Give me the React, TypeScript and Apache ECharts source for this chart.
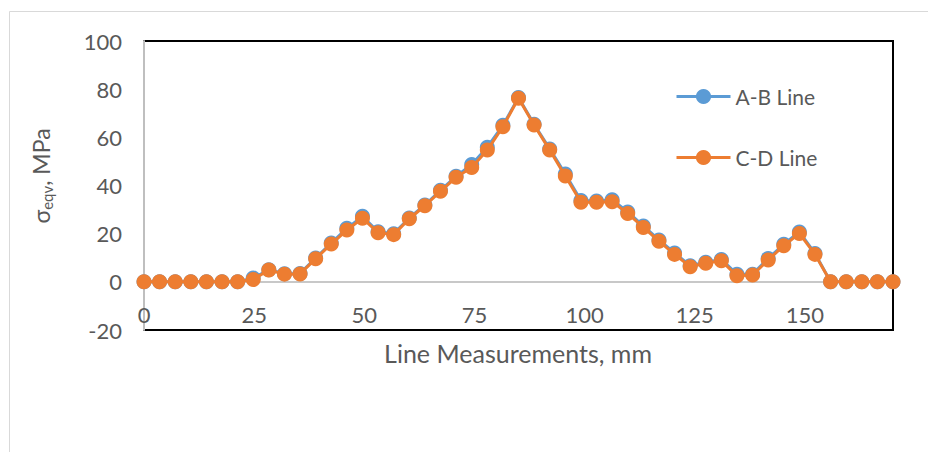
import React, { useEffect, useRef } from "react";
import * as echarts from "echarts";

const positionsMm: number[] = [
  0, 3.54, 7.08, 10.63, 14.17, 17.71, 21.25, 24.79, 28.33, 31.88,
  35.42, 38.96, 42.5, 46.04, 49.58, 53.13, 56.67, 60.21, 63.75, 67.29,
  70.83, 74.38, 77.92, 81.46, 85.0, 88.54, 92.08, 95.63, 99.17, 102.71,
  106.25, 109.79, 113.33, 116.88, 120.42, 123.96, 127.5, 131.04, 134.58, 138.13,
  141.67, 145.21, 148.75, 152.29, 155.83, 159.38, 162.92, 166.46, 170.0,
];

const abLine: number[] = [
  0, 0, 0, 0, 0, 0, 0, 1.6, 5.0, 3.4,
  3.5, 9.9, 16.1, 22.2, 27.2, 20.8, 20.0, 26.5, 31.9, 38.0,
  43.8, 48.7, 55.9, 65.0, 76.5, 65.4, 55.2, 44.8, 33.8, 33.6,
  34.1, 29.0, 23.2, 17.4, 12.0, 6.7, 8.1, 9.3, 3.2, 3.2,
  9.7, 15.6, 20.7, 11.8, 0, 0, 0, 0, 0,
];

const cdLine: number[] = [
  0, 0, 0, 0, 0, 0, 0, 1.0, 4.9, 3.2,
  3.3, 9.6, 15.7, 21.5, 26.4, 20.4, 19.6, 26.2, 31.6, 37.6,
  43.4, 47.5, 54.7, 64.4, 76.2, 65.1, 54.7, 43.9, 33.0, 33.0,
  33.3, 28.4, 22.6, 16.9, 11.4, 6.3, 7.7, 8.8, 2.5, 2.8,
  9.1, 15.0, 20.1, 11.4, 0, 0, 0, 0, 0,
];

const seriesNames: string[] = ["A-B Line", "C-D Line"];
const xTitle = "Line Measurements, mm";

const FONT = "Lato, 'Open Sans', sans-serif";
const TXT = "#595959";

export default function App() {
  const ref = useRef<HTMLDivElement>(null);
  useEffect(() => {
    if (!ref.current) return;
    const chart = echarts.init(ref.current, null, { renderer: "svg" });
    const toPairs = (ys: number[]) => positionsMm.map((x, i) => [x, ys[i]]);
    chart.setOption({
      animation: false,
      backgroundColor: "#ffffff",
      textStyle: { fontFamily: FONT },
      grid: {
        left: 144,
        right: 35,
        top: 41,
        bottom: 122,
        show: true,
        borderColor: "#000000",
        borderWidth: 2,
        backgroundColor: "transparent",
      },
      legend: {
        orient: "vertical",
        left: 670,
        top: 81,
        itemWidth: 54,
        itemHeight: 19,
        itemGap: 40,
        lineStyle: { width: 3 },
        textStyle: { color: TXT, fontSize: 21, fontFamily: FONT },
        data: seriesNames,
      },
      xAxis: {
        type: "value",
        min: 0,
        max: 170,
        interval: 25,
        axisLine: { show: true, onZero: true, lineStyle: { color: "#c8c8c8", width: 2 } },
        axisTick: { show: false },
        splitLine: { show: false },
        axisLabel: { color: TXT, fontSize: 22, fontFamily: FONT, margin: -27, showMaxLabel: false },
      },
      yAxis: {
        type: "value",
        min: -20,
        max: 100,
        interval: 20,
        axisLine: { show: true, onZero: false, lineStyle: { color: "#bfbfbf", width: 2 } },
        axisTick: { show: false },
        splitLine: { show: false },
        axisLabel: { color: TXT, fontSize: 22, fontFamily: FONT, margin: 22 },
      },
      graphic: [
        {
          type: "rect",
          shape: { x: 9.5, y: 11.5, width: 1000, height: 1000 },
          style: { fill: "none", stroke: "#d9d9d9", lineWidth: 1 },
          silent: true,
          z: -10,
        },
        {
          type: "text",
          x: 518,
          y: 353,
          style: {
            text: xTitle,
            fill: TXT,
            font: `25px ${FONT}`,
            align: "center",
            verticalAlign: "middle",
          },
        },
        {
          type: "text",
          x: 41,
          y: 176,
          rotation: Math.PI / 2,
          style: {
            text: "{a|σ}{b|eqv}{a|, MPa}",
            align: "center",
            verticalAlign: "middle",
            rich: {
              a: { fontSize: 23, fontFamily: FONT, fill: TXT, color: TXT, lineHeight: 26, verticalAlign: "middle" },
              b: { fontSize: 15, fontFamily: FONT, fill: TXT, color: TXT, lineHeight: 26, verticalAlign: "bottom", padding: [8, 0, 0, 0] },
            },
          },
        },
      ],
      series: [
        {
          name: seriesNames[0],
          type: "line",
          data: toPairs(abLine),
          symbol: "circle",
          symbolSize: 15,
          lineStyle: { color: "#5B9BD5", width: 3 },
          itemStyle: { color: "#5B9BD5" },
          z: 2,
        },
        {
          name: seriesNames[1],
          type: "line",
          data: toPairs(cdLine),
          symbol: "circle",
          symbolSize: 15,
          lineStyle: { color: "#ED7D31", width: 3 },
          itemStyle: { color: "#ED7D31" },
          z: 3,
        },
      ],
    });
    return () => chart.dispose();
  }, []);
  return (
    <div
      ref={ref}
      style={{ position: "absolute", left: 0, top: 0, width: 928, height: 452 }}
    />
  );
}
